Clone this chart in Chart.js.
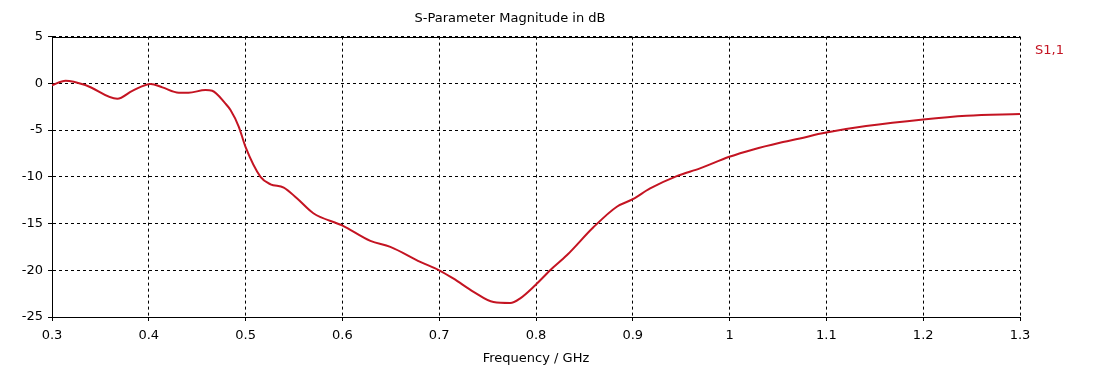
<!DOCTYPE html>
<html>
<head>
<meta charset="utf-8">
<script src="https://cdn.jsdelivr.net/npm/chart.js@4.4.1/dist/chart.umd.min.js"></script>
<style>
  html, body { margin: 0; padding: 0; background: #ffffff; }
  #c { display: block; }
</style>
</head>
<body>
<canvas id="c" width="1094" height="372"></canvas>
<script>
// ---- data ----
const seriesName = 'S1,1';
const freqGHz = [0.300,0.314,0.335,0.3675,0.383,0.402,0.414,0.431,0.441,0.4586,0.4655,0.479,0.4844,0.493,0.4999,0.5154,0.5257,0.5394,0.553,0.570,0.5997,0.6289,0.6495,0.6804,0.700,0.7149,0.7355,0.7561,0.7734,0.7837,0.7992,0.8146,0.8318,0.8593,0.8835,0.900,0.9179,0.9454,0.9694,0.9997,1.0245,1.052,1.0726,1.0915,1.1,1.141,1.2,1.2447,1.3];
const s11dB = [-0.2,0.28,-0.2,-1.65,-0.8,-0.07,-0.43,-1.0,-1.0,-0.72,-0.8,-2.15,-2.86,-4.65,-6.8,-10.0,-10.8,-11.15,-12.3,-13.9,-15.2,-16.86,-17.5,-19.1,-20.0,-20.9,-22.3,-23.4,-23.5,-23.0,-21.6,-20.0,-18.4,-15.4,-13.2,-12.4,-11.25,-9.93,-9.1,-7.86,-7.07,-6.36,-5.9,-5.43,-5.25,-4.57,-3.86,-3.47,-3.29];
const xTickLabels = ['0.3','0.4','0.5','0.6','0.7','0.8','0.9','1','1.1','1.2','1.3'];
const yTickLabels = ['-25','-20','-15','-10','-5','0','5'];
const titleText = 'S-Parameter Magnitude in dB';
const xTitleText = 'Frequency / GHz';

const points = freqGHz.map((f, i) => ({ x: f, y: s11dB[i] }));
const lineColor = 'rgb(196,20,34)';

Chart.defaults.font.family = '"DejaVu Sans", Verdana, sans-serif';
Chart.defaults.font.size = 13;
Chart.defaults.color = '#000';

const frameAndLegend = {
  id: 'frameAndLegend',
  beforeDraw(chart) {
    const ctx = chart.ctx;
    ctx.save();
    ctx.fillStyle = '#fff';
    ctx.fillRect(0, 0, chart.width, chart.height);
    ctx.restore();
  },
  afterDraw(chart) {
    const { ctx, chartArea } = chart;
    ctx.save();
    ctx.strokeStyle = '#000';
    ctx.lineWidth = 1;
    ctx.setLineDash([]);
    ctx.beginPath();
    const y = Math.round(chartArea.top) + 0.5;
    ctx.moveTo(chartArea.left, y);
    ctx.lineTo(chartArea.right, y);
    ctx.stroke();
    // legend label
    ctx.fillStyle = lineColor;
    ctx.font = '13px "DejaVu Sans", Verdana, sans-serif';
    ctx.textAlign = 'left';
    ctx.textBaseline = 'middle';
    ctx.fillText(chart.data.datasets[0].label, chartArea.right + 15, 51);
    ctx.restore();
  }
};

new Chart(document.getElementById('c'), {
  type: 'line',
  data: {
    datasets: [{
      label: seriesName,
      data: points,
      borderColor: lineColor,
      borderWidth: 2,
      pointRadius: 0,
      fill: false,
      cubicInterpolationMode: 'monotone'
    }]
  },
  options: {
    responsive: false,
    animation: false,
    layout: { padding: { left: 0, right: 74, top: 0, bottom: 0 } },
    plugins: {
      legend: { display: false },
      tooltip: { enabled: false },
      title: {
        display: true,
        text: titleText,
        color: '#000',
        font: { size: 13, weight: 'normal' },
        padding: { top: 11, bottom: 10 }
      }
    },
    scales: {
      x: {
        type: 'linear',
        min: 0.3,
        max: 1.3,
        afterFit(scale) { scale.height = 55; },
        afterBuildTicks(scale) {
          scale.ticks = xTickLabels.map(t => ({ value: parseFloat(t) }));
        },
        ticks: {
          color: '#000',
          padding: 7,
          maxRotation: 0,
          autoSkip: false,
          callback: (v, i) => xTickLabels[i]
        },
        grid: {
          color: '#000',
          lineWidth: 1,
          drawTicks: true,
          tickLength: 4,
          tickColor: '#000'
        },
        border: { display: true, color: '#000', width: 1, dash: [3, 3] },
        title: {
          display: true,
          text: xTitleText,
          color: '#000',
          font: { size: 13 },
          padding: { top: 0, bottom: 6 }
        }
      },
      y: {
        type: 'linear',
        min: -25,
        max: 5,
        afterFit(scale) { scale.width = 52; },
        afterBuildTicks(scale) {
          scale.ticks = yTickLabels.map(t => ({ value: parseFloat(t) }));
        },
        ticks: {
          color: '#000',
          padding: 5,
          autoSkip: false,
          callback: (v, i) => yTickLabels[i]
        },
        grid: {
          color: '#000',
          lineWidth: 1,
          drawTicks: true,
          tickLength: 4,
          tickColor: '#000'
        },
        border: { display: true, color: '#000', width: 1, dash: [3, 3] }
      }
    }
  },
  plugins: [frameAndLegend]
});
</script>
</body>
</html>
